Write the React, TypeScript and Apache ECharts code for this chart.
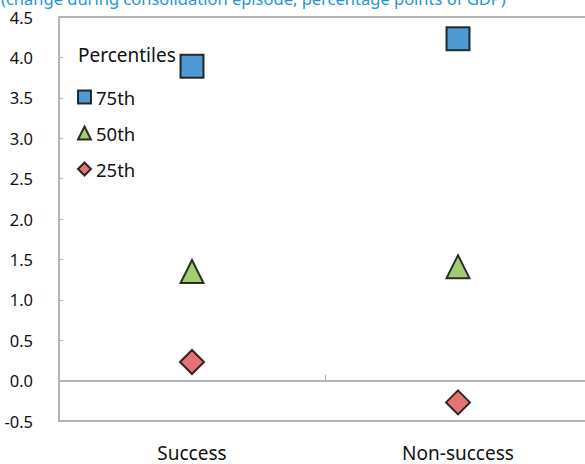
import React, { useEffect, useRef } from "react";
import * as echarts from "echarts";

// Outcome groups on the horizontal axis
const categories = ["Success", "Non-success"];

// Percentile values for each group (percentage points of GDP)
const p75 = [3.89, 4.23];
const p50 = [1.35, 1.41];
const p25 = [0.23, -0.27];

const yTicks = { min: -0.5, max: 4.5, interval: 0.5 };

const subtitle = "(change during consolidation episode, percentage points of GDP)";
const legendTitle = "Percentiles";

const FONT = "'Noto Sans', 'Open Sans', sans-serif";
const AXIS_GRAY = "#b3b3b3";

export default function App() {
  const ref = useRef<HTMLDivElement>(null);

  useEffect(() => {
    if (!ref.current) return;
    const chart = echarts.init(ref.current, null, { renderer: "svg" });

    const markerBorder = { borderColor: "#000", borderWidth: 2 };

    chart.setOption({
      animation: false,
      textStyle: { fontFamily: FONT },
      grid: {
        left: 59,
        top: 17,
        width: 532,
        height: 404,
        show: true,
        borderColor: AXIS_GRAY,
        borderWidth: 2,
        backgroundColor: "transparent",
      },
      legend: {
        orient: "vertical",
        left: 77,
        top: 86,
        padding: 0,
        itemWidth: 13,
        itemHeight: 13,
        itemGap: 14,
        textStyle: { fontSize: 18.5, color: "#111", lineHeight: 22, fontFamily: FONT },
        data: ["75th", "50th", "25th"],
      },
      graphic: [
        {
          type: "text",
          left: 78,
          top: 45,
          style: { text: legendTitle, fontSize: 19, fill: "#111", fontFamily: FONT },
        },
        {
          type: "text",
          x: 1,
          y: 7,
          style: {
            text: subtitle,
            fontSize: 16.5,
            fill: "#2496cf",
            fontFamily: FONT,
            verticalAlign: "bottom",
          },
        },
      ],
      xAxis: [
        {
          type: "category",
          data: categories,
          position: "bottom",
          boundaryGap: true,
          axisLine: { onZero: false, lineStyle: { color: AXIS_GRAY, width: 2 } },
          axisTick: { show: false },
          axisLabel: { fontSize: 19, color: "#111", margin: 22, fontFamily: FONT },
        },
        {
          type: "category",
          data: categories,
          position: "bottom",
          boundaryGap: true,
          axisLine: { onZero: true, lineStyle: { color: AXIS_GRAY, width: 2 } },
          axisTick: { show: true, inside: true, length: 6, lineStyle: { color: AXIS_GRAY, width: 1 } },
          axisLabel: { show: false },
        },
      ],
      yAxis: {
        type: "value",
        min: yTicks.min,
        max: yTicks.max,
        interval: yTicks.interval,
        axisLine: { show: true, lineStyle: { color: AXIS_GRAY, width: 2 } },
        axisTick: { show: true, inside: true, length: 4, lineStyle: { color: AXIS_GRAY, width: 1 } },
        splitLine: { show: false },
        axisLabel: {
          fontSize: 16.5,
          color: "#111",
          margin: 26,
          fontFamily: FONT,
          formatter: (v: number) => v.toFixed(1),
        },
      },
      series: [
        {
          name: "75th",
          type: "scatter",
          xAxisIndex: 0,
          symbol: "rect",
          symbolSize: 23,
          data: p75,
          itemStyle: { color: "#2381c4", ...markerBorder },
          z: 3,
        },
        {
          name: "50th",
          type: "scatter",
          xAxisIndex: 0,
          symbol: "triangle",
          symbolSize: 23,
          data: p50,
          itemStyle: { color: "#8dc050", ...markerBorder },
          z: 3,
        },
        {
          name: "25th",
          type: "scatter",
          xAxisIndex: 0,
          symbol: "diamond",
          symbolSize: 24,
          data: p25,
          itemStyle: { color: "#e05050", ...markerBorder },
          z: 3,
        },
      ],
    });

    return () => chart.dispose();
  }, []);

  return (
    <div
      ref={ref}
      style={{ position: "fixed", left: 0, top: 0, width: 600, height: 464, background: "#fff" }}
    />
  );
}
